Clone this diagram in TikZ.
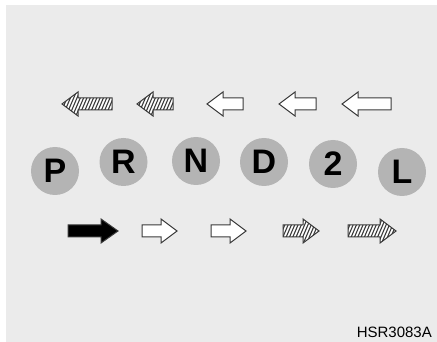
\documentclass[tikz,border=0pt]{standalone}
\usepackage{fontspec}
\setmainfont{Liberation Sans}
\definecolor{bg}{HTML}{EBEBEB}
\definecolor{disc}{HTML}{B4B4B4}
\definecolor{edge}{HTML}{3A3A3A}
% #1 tail x, #2 tip x, #3 centre y, #4 head base x
\newcommand\arrshape[4]{(#1,{#3-6}) -- (#4,{#3-6}) -- (#4,{#3-12}) -- (#2,#3) -- (#4,{#3+12}) -- (#4,{#3+6}) -- (#1,{#3+6}) -- cycle}
\newcommand\hatcharrow[4]{%
  \begin{scope}
    \clip \arrshape{#1}{#2}{#3}{#4};
    \fill[white] \arrshape{#1}{#2}{#3}{#4};
    \foreach \xx in {-20,-16.7,...,60} {\draw[stripe] ({min(#1,#2)+\xx},{#3+14}) -- ++(12,-28);}
  \end{scope}
  \draw[arrowline] \arrshape{#1}{#2}{#3}{#4};}
\begin{document}
\begin{tikzpicture}[x=1pt,y=-1pt,
  gear/.style={circle, fill=disc, minimum size=48pt, inner sep=0pt, text=black,
    font=\fontsize{34}{34}\selectfont\bfseries},
  arrowline/.style={draw=edge, line width=1pt, line join=miter},
  stripe/.style={draw=edge, line width=1.1pt},
  tag/.style={font=\fontsize{15}{15}\selectfont, text=black, inner sep=0pt}]
\useasboundingbox (0,0) rectangle (437,342);
\fill[bg] (6,5) rectangle (437,342);

% top row (pointing left)
\hatcharrow{112}{62}{104}{78}
\hatcharrow{173}{137}{104}{153}
\draw[arrowline, fill=white] \arrshape{243}{207}{104}{223};
\draw[arrowline, fill=white] \arrshape{316}{279}{104}{295};
\draw[arrowline, fill=white] \arrshape{391}{342}{104}{358};

% selector positions
\node[gear] (P) at (55,171) {P};
\node[gear] (R) at (123.5,162) {R};
\node[gear] (N) at (196,161) {N};
\node[gear] (D) at (264,162) {D};
\node[gear] (two) at (333,164) {2};
\node[gear] (L) at (402,172) {L};

% bottom row (pointing right)
\draw[arrowline, fill=black] \arrshape{68}{118}{231}{101};
\draw[arrowline, fill=white] \arrshape{142}{177}{231}{161};
\draw[arrowline, fill=white] \arrshape{211}{246}{231}{230};
\hatcharrow{283}{319}{231}{303}
\hatcharrow{348}{396}{231}{380}

\node[tag, anchor=base east] (code) at (432,337) {HSR3083A};
\end{tikzpicture}
\end{document}
